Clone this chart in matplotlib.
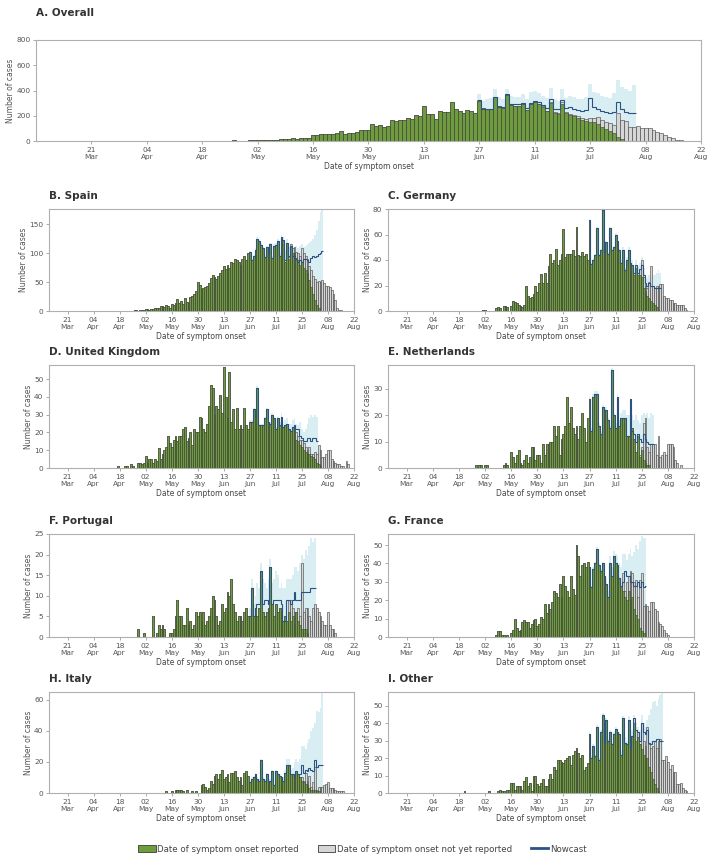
import numpy as np
import pandas as pd
import matplotlib
matplotlib.use("Agg")
import matplotlib.pyplot as plt
import matplotlib.dates as mdates
from matplotlib.patches import Patch
from matplotlib.lines import Line2D

plt.rcParams['font.family'] = ['Liberation Sans Narrow', 'DejaVu Sans']

GREEN = '#6e9c3f'
GREY = '#d6d6d6'
EDGE = '#3c3c3c'
NAVY = '#2c5282'
BAND = '#d8eef2'

# ---- data (daily counts) ----
# A. Overall
overall_start = '2022-04-18'
overall_reported = [1,2,1,2,3,2,3,2,4,3,2,3,4,
    5,10,6,5,8,9,7,18,14,15,20,18,20,22,25,45,50,55,55,58,55,60,80,55,60,65,75,85,90,88,135,
    120,125,113,120,166,160,166,170,182,177,208,200,277,212,212,171,240,230,227,309,253,240,219,245,235,219,315,260,255,250,
    345,280,265,365,285,280,275,290,245,290,305,290,270,235,300,220,210,295,220,205,195,185,165,160,150,148,135,108,95,82,60,
    35,12]
overall_pending_start = '2022-07-10'
overall_pending = [3,4,5,5,6,5,8,8,10,10,12,12,15,15,18,35,32,58,58,55,58,70,
    184,158,155,113,110,115,105,105,100,85,70,60,45,30,20,10,5,2,1]
overall_nc_start = '2022-06-27'
overall_nowcast = [325,255,255,250,
    351,270,268,372,295,295,290,300,260,300,320,305,285,265,330,255,250,325,260,270,255,248,240,245,340,267,255,240,230,225,230,
    306,255,230,220,225]
overall_upper = [370,320,330,340,
    410,350,330,415,360,350,345,370,330,390,400,380,360,340,420,330,320,410,340,360,350,335,330,345,450,390,380,360,350,340,380,
    480,430,410,400,440]

# B. Spain
spain_start = '2022-04-26'
spain_reported = [1,1,0,2,1,
    2,4,3,2,4,3,5,6,5,8,9,7,10,8,6,12,10,13,20,14,18,12,22,15,14,25,26,30,34,50,45,
    38,40,42,43,48,57,62,58,55,60,65,70,78,72,80,75,85,82,90,88,85,80,90,95,88,100,102,88,95,105,
    125,120,114,108,94,110,100,115,92,112,114,120,95,127,122,85,117,90,110,100,100,92,88,80,85,75,70,65,53,42,30,
    19,10,5]
spain_pending_start = '2022-07-18'
spain_pending = [3,5,8,10,10,12,15,23,25,25,25,25,28,30,36,40,47,
    50,53,48,43,43,41,36,30,19,5,2,2]
spain_nc_start = '2022-06-27'
spain_nowcast = [102,88,95,105,
    125,120,114,108,94,110,100,115,92,112,114,120,95,127,122,88,117,95,112,95,95,90,85,88,85,90,90,88,85,92,95,
    93,95,98,100,103]
spain_upper = [104,90,97,108,
    128,123,117,111,97,113,103,118,95,116,118,124,100,132,128,105,125,110,118,108,110,112,108,112,115,110,112,115,118,120,125,
    132,140,155,170,190]

# C. Germany
germany_start = '2022-05-01'
germany_reported = [1,1,0,0,0,0,0,2,3,2,0,4,4,3,0,4,8,7,6,5,4,3,5,20,12,10,11,13,20,15,22,
    29,22,30,22,35,45,38,40,49,36,40,45,64,42,45,45,45,48,43,66,44,43,46,43,45,40,71,37,40,44,
    65,44,48,79,46,54,45,65,48,50,60,55,48,38,48,32,40,48,38,35,28,34,28,28,27,18,15,12,10,8,6,
    5,3,1]
germany_pending_start = '2022-07-20'
germany_pending = [1,2,2,2,5,13,9,5,6,13,27,14,
    13,17,19,21,21,12,10,10,9,9,6,6,5,5,5,5,2,1]
germany_nc_start = '2022-06-27'
germany_nowcast = [71,37,40,44,
    65,44,48,79,46,54,45,65,48,50,60,55,48,38,48,32,40,48,38,36,30,36,30,33,36,28,22,20,22,20,20,
    18,18,18,18]
germany_upper = [72,38,41,45,
    66,45,49,80,47,55,46,66,49,51,61,56,49,40,50,34,42,50,41,40,34,40,35,38,42,34,28,26,28,27,28,
    28,30,32,30]

# D. United Kingdom
uk_start = '2022-04-17'
uk_reported = [1,0,0,0,1,1,0,2,1,0,0,3,3,2,
    3,7,3,5,5,3,5,4,11,5,8,10,12,18,14,12,16,18,15,18,18,22,23,15,17,20,13,22,20,20,29,
    28,22,20,25,35,47,45,30,35,33,41,31,57,40,28,54,26,33,22,34,22,24,22,34,24,22,26,26,33,29,
    45,24,24,24,28,33,26,25,30,28,22,28,24,29,23,24,25,22,21,23,23,16,15,13,12,10,9,8,8,7,6,
    5,3,2,1]
uk_pending_start = '2022-07-22'
uk_pending = [4,3,3,4,4,3,2,4,1,2,4,5,11,9,
    6,6,8,10,10,5,4,3,2,2,1,1,0,4,2]
uk_nc_start = '2022-06-27'
uk_nowcast = [26,26,33,29,
    45,24,24,24,28,33,26,25,30,28,22,28,24,29,23,24,25,22,21,23,24,22,22,18,17,15,15,17,17,15,17,
    17,15]
uk_upper = [27,27,34,30,
    46,25,25,25,29,34,27,26,31,29,23,29,26,31,25,27,28,25,25,27,28,25,24,26,22,20,22,25,28,30,29,
    30,29]

# E. Netherlands
nl_start = '2022-04-27'
nl_reported = [1,0,1,1,
    0,1,1,0,0,0,0,0,0,0,0,1,2,1,0,6,4,2,5,7,2,1,3,5,2,4,8,8,3,5,5,
    2,9,5,9,9,10,10,16,12,16,5,11,13,16,27,17,23,15,13,16,11,16,21,15,10,19,26,14,27,28,
    28,16,13,23,22,22,18,15,37,20,15,27,16,19,19,19,12,12,26,15,11,6,12,4,7,3,2,1,1]
nl_pending_start = '2022-07-23'
nl_pending = [1,1,1,14,17,7,5,9,9,
    9,5,12,4,5,6,5,9,9,9,8,3,2,0,1]
nl_nc_start = '2022-06-27'
nl_nowcast = [26,14,27,28,
    28,16,13,23,22,22,18,15,37,20,15,27,16,19,19,19,12,12,26,14,13,10,13,11,10,13,11,10,9,9,9]
nl_upper = [27,15,28,29,
    29,17,14,24,23,23,19,16,38,21,17,28,18,21,22,22,20,20,26,20,18,20,18,17,20,21,20,21,19,21,20]

# F. Portugal
pt_start = '2022-04-28'
pt_reported = [2,0,0,
    1,0,0,0,0,5,0,1,3,2,3,2,0,0,1,1,2,5,9,5,5,3,3,7,3,4,2,3,6,5,6,
    4,6,3,4,5,7,10,9,5,3,4,8,6,7,11,10,14,8,6,4,5,5,4,6,7,5,5,12,5,7,
    5,7,16,6,5,6,7,17,8,5,8,6,7,6,4,5,4,6,4,5,3,6,4,3,2,2,2,1]
pt_pending_start = '2022-07-18'
pt_pending = [3,5,2,3,0,3,2,16,4,5,6,5,4,7,
    8,7,6,5,4,3,3,6,3,2,2,1]
pt_nc_start = '2022-06-27'
pt_nowcast = [5,12,5,7,
    8,8,16,8,9,9,8,17,8,9,9,9,9,8,4,4,9,9,8,9,11,9,9,9,11,11,11,11,11,12,12,
    12]
pt_upper = [7,14,8,10,
    13,12,18,14,13,12,14,19,13,14,16,15,12,13,12,12,14,14,14,15,17,17,16,18,20,19,21,20,22,24,23,
    24]

# G. France
fr_start = '2022-05-08'
fr_reported = [1,3,3,1,1,0,1,0,2,4,10,5,3,4,8,9,8,8,5,7,9,10,6,7,
    11,10,18,13,18,15,19,25,24,22,29,22,33,28,25,22,33,26,23,50,44,33,39,40,38,41,38,27,37,40,
    48,39,36,40,33,29,22,40,33,44,40,39,32,28,25,22,20,25,20,22,15,12,10,5,3,2]
fr_pending_start = '2022-07-15'
fr_pending = [10,3,10,8,16,13,15,19,12,26,32,15,18,17,14,19,19,
    15,14,8,7,6,4,2,1]
fr_nc_start = '2022-06-27'
fr_nowcast = [38,27,37,40,
    48,39,36,40,33,29,22,40,33,44,40,39,32,28,30,36,33,33,30,30,28,28,30,27,30,27,28]
fr_upper = [39,28,38,41,
    49,40,37,41,34,32,25,44,38,47,45,44,40,38,45,45,42,45,48,44,46,50,48,52,55,54,54]

# H. Italy
it_start = '2022-05-13'
it_reported = [1,0,0,1,0,2,2,2,2,1,0,2,0,0,1,0,1,0,0,
    5,6,4,2,3,8,6,11,12,9,12,15,9,10,12,7,13,13,14,10,8,10,5,13,14,11,7,9,10,12,
    9,8,21,9,8,12,7,8,14,5,14,12,11,10,8,13,18,18,12,12,10,14,12,10,8,7,6,5,3,2,2,
    2,1,1]
it_pending_start = '2022-07-25'
it_pending = [2,1,7,3,8,2,5,
    15,1,3,4,4,5,6,7,3,3,3,2,1,1,1,1]
it_nc_start = '2022-06-27'
it_nowcast = [7,9,10,12,
    9,8,21,9,8,12,7,8,14,5,14,12,11,10,8,13,18,18,12,12,10,14,12,12,18,13,15,14,16,15,14,
    21,17,18,18,18]
it_upper = [8,10,11,13,
    10,9,22,10,9,13,8,9,15,6,15,13,12,11,10,15,22,22,15,16,20,22,20,22,30,30,28,32,35,40,42,
    45,53,52,55,65]

# I. Other
other_start = '2022-04-21'
other_reported = [1,0,0,0,0,0,0,0,0,0,
    0,0,0,1,0,0,0,0,1,2,1,1,0,2,2,6,6,2,4,4,4,2,7,9,4,6,1,10,10,5,4,
    6,8,4,4,8,11,8,15,13,19,19,18,17,19,20,21,16,22,24,26,23,20,22,13,15,17,34,20,27,21,
    38,19,35,45,29,42,30,35,28,34,37,35,34,22,43,29,28,42,26,33,40,30,32,28,25,22,20,20,15,12,8,
    5,3,1]
other_pending_start = '2022-07-21'
other_pending = [3,6,3,0,15,8,7,18,13,14,19,
    25,23,29,31,19,19,21,18,14,16,12,12,5,5,6,3,2,1]
other_nc_start = '2022-06-27'
other_nowcast = [34,20,27,21,
    38,19,35,45,29,42,30,35,28,34,37,35,34,22,43,29,28,42,26,33,43,36,35,30,40,35,34,36,29,28,30,
    30,31,31,30,30]
other_upper = [35,21,28,22,
    39,20,36,46,30,43,31,36,29,35,38,36,35,24,44,32,30,44,30,36,45,40,38,36,45,40,38,42,45,48,52,
    53,50,54,56,58]

# panel: title, data, y limit, y ticks, axes box in pixels (left, top, right, bottom), first day shown
PANELS = [
    ('A. Overall', overall_start, overall_reported, overall_pending_start, overall_pending,
     overall_nc_start, overall_nowcast, overall_upper, 800, [0,200,400,600,800], (36, 40, 701, 141), '2022-03-07'),
    ('B. Spain', spain_start, spain_reported, spain_pending_start, spain_pending,
     spain_nc_start, spain_nowcast, spain_upper, 176, [0,50,100,150], (49, 209, 354, 311), '2022-03-11'),
    ('C. Germany', germany_start, germany_reported, germany_pending_start, germany_pending,
     germany_nc_start, germany_nowcast, germany_upper, 80, [0,20,40,60,80], (388, 209, 694, 311), '2022-03-11'),
    ('D. United Kingdom', uk_start, uk_reported, uk_pending_start, uk_pending,
     uk_nc_start, uk_nowcast, uk_upper, 58, [0,10,20,30,40,50], (49, 365, 354, 468), '2022-03-11'),
    ('E. Netherlands', nl_start, nl_reported, nl_pending_start, nl_pending,
     nl_nc_start, nl_nowcast, nl_upper, 39, [0,10,20,30], (388, 365, 694, 468), '2022-03-11'),
    ('F. Portugal', pt_start, pt_reported, pt_pending_start, pt_pending,
     pt_nc_start, pt_nowcast, pt_upper, 25, [0,5,10,15,20,25], (49, 534, 354, 637), '2022-03-11'),
    ('G. France', fr_start, fr_reported, fr_pending_start, fr_pending,
     fr_nc_start, fr_nowcast, fr_upper, 56, [0,10,20,30,40,50], (388, 534, 694, 637), '2022-03-11'),
    ('H. Italy', it_start, it_reported, it_pending_start, it_pending,
     it_nc_start, it_nowcast, it_upper, 65, [0,20,40,60], (49, 692, 354, 793), '2022-03-11'),
    ('I. Other', other_start, other_reported, other_pending_start, other_pending,
     other_nc_start, other_nowcast, other_upper, 58, [0,10,20,30,40,50], (388, 692, 694, 793), '2022-03-11'),
]

W, H = 725, 866
cal = pd.date_range('2022-03-01', '2022-08-31')
xnum = mdates.date2num(cal)
ticks = mdates.date2num(pd.date_range('2022-03-21', '2022-08-22', freq='14D'))


def onto(start, values):
    s = pd.Series(0.0, index=cal)
    s.loc[pd.date_range(start, periods=len(values))] = values
    return s.to_numpy()


fig = plt.figure(figsize=(W / 100, H / 100), dpi=100)

for (title, r0, rep, p0, pend, n0, nc, up, ymax, yt, box, x0) in PANELS:
    l, t, r, b = box
    ax = fig.add_axes([l / W, 1 - b / H, (r - l) / W, (b - t) / H])

    reported = onto(r0, rep)
    total = reported + onto(p0, pend)
    m = total > 0
    ax.bar(xnum[m], total[m], width=1, color=GREY, edgecolor=EDGE, linewidth=0.4, zorder=2)
    m = reported > 0
    ax.bar(xnum[m], reported[m], width=1, color=GREEN, edgecolor=EDGE, linewidth=0.4, zorder=3)

    edges = mdates.date2num(pd.Timestamp(n0)) - 0.5 + np.arange(len(nc) + 1)
    ax.stairs(up, edges, fill=True, baseline=0, color=BAND, zorder=1)
    ax.stairs(nc, edges, baseline=None, color=NAVY, linewidth=0.8, zorder=4)

    ax.set_xlim(mdates.date2num(pd.Timestamp(x0)), mdates.date2num(pd.Timestamp('2022-08-22')))
    ax.set_ylim(0, ymax)
    ax.set_yticks(yt)
    ax.set_xticks(ticks)
    ax.xaxis.set_major_formatter(mdates.DateFormatter('%d\n%b'))

    for s in ax.spines.values():
        s.set_color('#b0b0b0')
        s.set_linewidth(0.8)
    ax.tick_params(length=2.5, width=0.5, color='#888888', labelsize=5.3,
                   labelcolor='#555555', pad=1.5)
    ax.set_ylabel('Number of cases', fontsize=5.5, color='#555555', labelpad=1)
    ax.set_xlabel('Date of symptom onset', fontsize=5.5, color='#444444', labelpad=2)

    fig.text(l / W, 1 - (t - 13 if title != 'A. Overall' else 13) / H, title,
             fontsize=7.5, fontweight='bold', color='#333333', va='center', ha='left')

handles = [Patch(facecolor=GREEN, edgecolor=EDGE, linewidth=0.6),
           Patch(facecolor=GREY, edgecolor=EDGE, linewidth=0.6),
           Line2D([0], [0], color=NAVY, linewidth=2)]
labels = ['Date of symptom onset reported', 'Date of symptom onset not yet reported', 'Nowcast']
fig.legend(handles, labels, loc='center', bbox_to_anchor=(0.5, 1 - 849 / H), ncol=3,
           frameon=False, fontsize=6.2, handlelength=2.0, handleheight=0.8,
           handletextpad=0.2, columnspacing=2.2, labelcolor='#444444')

fig.savefig('out.png', dpi=100)
